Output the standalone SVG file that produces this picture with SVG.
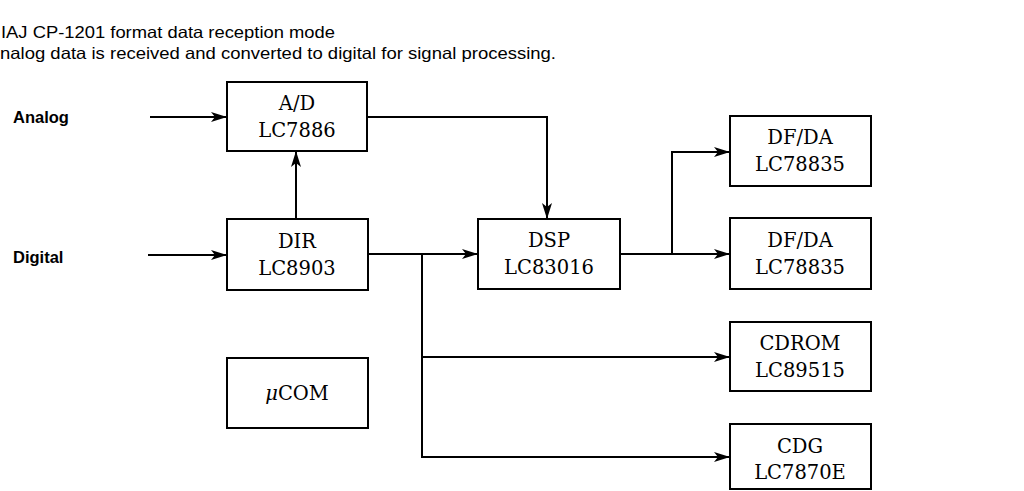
<svg xmlns="http://www.w3.org/2000/svg" width="1024" height="491" viewBox="0 0 1024 491">
<style>
.box{fill:#fff;stroke:#000;stroke-width:2}
.lbl{font-family:"DejaVu Serif","Liberation Serif",serif;font-size:19.5px;fill:#000;text-anchor:middle}
.side{font-family:"Liberation Sans",Arial,sans-serif;font-size:16.5px;font-weight:bold;fill:#000}
.title{font-family:"Liberation Sans",Arial,sans-serif;font-size:16.5px;fill:#000}
.wire{fill:none;stroke:#000;stroke-width:2}
.arr{marker-end:url(#ah)}
</style>
<defs>
<marker id="ah" markerUnits="userSpaceOnUse" markerWidth="18" markerHeight="12" refX="16" refY="6" orient="auto">
<path d="M0,1 L16,6 L0,11 L4,6 Z" fill="#000"/>
</marker>
</defs>
<rect width="1024" height="491" fill="#fff"/>
<g id="title">
<text class="title" x="1" y="38" textLength="334" lengthAdjust="spacingAndGlyphs">IAJ CP-1201 format data reception mode</text>
<text class="title" x="0" y="59" textLength="556" lengthAdjust="spacingAndGlyphs">nalog data is received and converted to digital for signal processing.</text>
</g>
<g id="inputs">
<text class="side" x="13" y="123">Analog</text>
<text class="side" x="13" y="263">Digital</text>
</g>
<g id="connectors">
<path class="wire arr" d="M150,117 H227"/>
<path class="wire arr" d="M148,255 H227"/>
<path class="wire arr" d="M296,219 V151"/>
<path class="wire arr" d="M367,117 H547 V219"/>
<path class="wire arr" d="M368,254 H478"/>
<path class="wire arr" d="M422,254 V457 H730"/>
<path class="wire arr" d="M422,357 H730"/>
<path class="wire arr" d="M620,254 H730"/>
<path class="wire arr" d="M672,254 V152 H730"/>
</g>
<g id="ad">
<rect class="box" x="227" y="82" width="140" height="69"/>
<text class="lbl" x="297" y="110">A/D</text>
<text class="lbl" x="297" y="137">LC7886</text>
</g>
<g id="dir">
<rect class="box" x="227" y="219" width="141" height="71"/>
<text class="lbl" x="297" y="248">DIR</text>
<text class="lbl" x="297" y="275">LC8903</text>
</g>
<g id="ucom">
<rect class="box" x="227" y="358" width="141" height="70"/>
<text class="lbl" x="297" y="400"><tspan font-style="italic">μ</tspan>COM</text>
</g>
<g id="dsp">
<rect class="box" x="478" y="219" width="142" height="70"/>
<text class="lbl" x="549" y="247">DSP</text>
<text class="lbl" x="549" y="274">LC83016</text>
</g>
<g id="dfda1">
<rect class="box" x="730" y="116" width="141" height="70"/>
<text class="lbl" x="800" y="144">DF/DA</text>
<text class="lbl" x="800" y="171">LC78835</text>
</g>
<g id="dfda2">
<rect class="box" x="730" y="218" width="141" height="71"/>
<text class="lbl" x="800" y="247">DF/DA</text>
<text class="lbl" x="800" y="274">LC78835</text>
</g>
<g id="cdrom">
<rect class="box" x="730" y="322" width="141" height="69"/>
<text class="lbl" x="800" y="350">CDROM</text>
<text class="lbl" x="800" y="377">LC89515</text>
</g>
<g id="cdg">
<rect class="box" x="730" y="424" width="141" height="65"/>
<text class="lbl" x="800" y="453">CDG</text>
<text class="lbl" x="800" y="479">LC7870E</text>
</g>
</svg>
